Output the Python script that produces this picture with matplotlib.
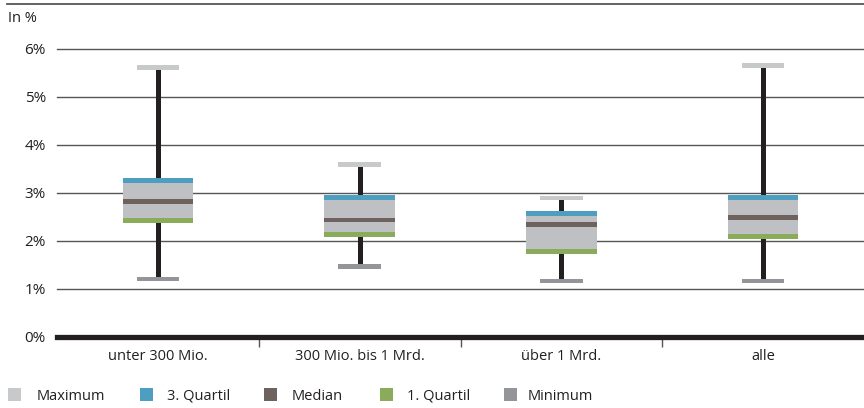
import matplotlib
matplotlib.use('Agg')
import matplotlib.pyplot as plt
from matplotlib.patches import Rectangle
from matplotlib.lines import Line2D
import numpy as np

# values (in %)
categories = ['unter 300 Mio.', '300 Mio. bis 1 Mrd.', 'über 1 Mrd.', 'alle']
maximum = [5.62, 3.59, 2.89, 5.65]
quartil3 = [3.25, 2.90, 2.56, 2.90]
median = [2.82, 2.43, 2.34, 2.48]
quartil1 = [2.42, 2.13, 1.77, 2.08]
minimum = [1.20, 1.46, 1.16, 1.16]
yticks = [0, 1, 2, 3, 4, 5, 6]
legend_labels = ['Maximum', '3. Quartil', 'Median', '1. Quartil', 'Minimum']

c_max = '#c8c9cb'
c_q3 = '#4e9ec2'
c_med = '#6d625d'
c_q1 = '#8aab59'
c_min = '#939598'
c_box = '#bfc0c3'
c_dark = '#231f20'
legend_colors = [c_max, c_q3, c_med, c_q1, c_min]

plt.rcParams['font.family'] = ['Open Sans', 'DejaVu Sans']
W, H = 864, 408
fig = plt.figure(figsize=(W / 100, H / 100), dpi=100)

# axes placed in pixel terms: 0% at y=336.5, 6% at y=49
ax = fig.add_axes([57 / W, (H - 336.5) / H, (W - 57) / W, (336.5 - 49) / H])
ax.set_xlim(0, 4)
ax.set_ylim(0, 6)
for s in ax.spines.values():
    s.set_visible(False)

for t in yticks[1:]:
    ax.axhline(t, color='#555555', lw=1.0, zorder=1, clip_on=False)
ax.axhline(0, color=c_dark, lw=3.8, zorder=6, clip_on=False)

x = np.arange(len(categories)) + 0.5
band = 0.1
box_w = 0.35
cap_w = 0.21

ax.vlines(x, minimum, maximum, color=c_dark, lw=3.6, zorder=2)
q1 = np.array(quartil1)
q3 = np.array(quartil3)
ax.bar(x, (q3 - q1) + band, bottom=q1 - band / 2, width=box_w, color=c_box, zorder=3)
ax.bar(x, band, bottom=np.array(quartil3) - band / 2, width=box_w, color=c_q3, zorder=4)
ax.bar(x, band, bottom=np.array(median) - band / 2, width=box_w, color=c_med, zorder=4)
ax.bar(x, band, bottom=np.array(quartil1) - band / 2, width=box_w, color=c_q1, zorder=4)
ax.bar(x, band, bottom=np.array(maximum) - band / 2, width=cap_w, color=c_max, zorder=4)
ax.bar(x, band, bottom=np.array(minimum) - band / 2, width=cap_w, color=c_min, zorder=4)

ax.set_yticks(yticks)
ax.set_yticklabels(['%d%%' % t for t in yticks], fontsize=11, color='#231f20')
ax.tick_params(axis='y', length=0, pad=8)
ax.set_xticks([1, 2, 3], minor=True)
ax.set_xticks(x)
ax.set_xticklabels(categories, fontsize=10.5, color='#231f20')
ax.tick_params(axis='x', which='major', length=0, pad=9)
ax.tick_params(axis='x', which='minor', length=7, width=1, color='#555555')

# top rule and unit label
fig.add_artist(Line2D([7 / W, 1], [1 - 4 / H, 1 - 4 / H], color='#555555', lw=1.3))
fig.text(8 / W, 1 - 19 / H, 'In %', fontsize=10.5, color='#231f20', va='center')

# legend
sq_x = [8, 140, 264, 380, 504]
tx_x = [37, 167, 292, 407, 528]
for sx, tx, lab, col in zip(sq_x, tx_x, legend_labels, legend_colors):
    fig.add_artist(Rectangle((sx / W, 1 - 401 / H), 13 / W, 13 / H,
                             transform=fig.transFigure, color=col, lw=0))
    fig.text(tx / W, 1 - 396 / H, lab, fontsize=10.5, color='#231f20', va='center')

fig.savefig('out.png', dpi=100)
